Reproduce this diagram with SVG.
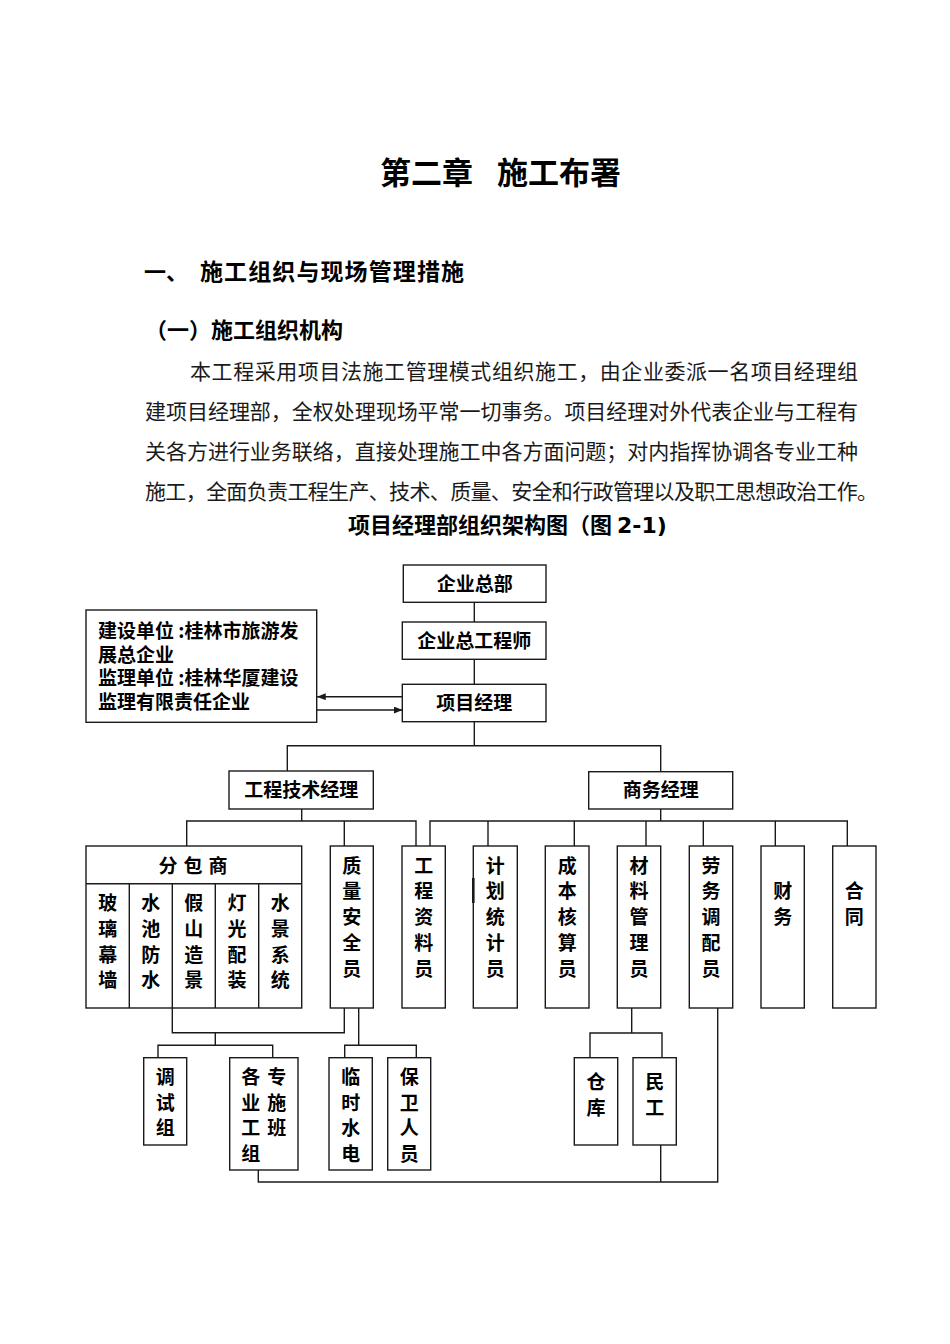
<svg xmlns="http://www.w3.org/2000/svg" width="950" height="1344" viewBox="0 0 950 1344">
<style>
.box{fill:#fff;stroke:#1a1a1a;stroke-width:1.4}
.ln{fill:none;stroke:#1a1a1a;stroke-width:1.4}
.t{font-family:"Noto Sans CJK SC","Noto Sans CJK JP",sans-serif;font-weight:bold;font-size:19px;fill:#000}
.c{text-anchor:middle}
.body{font-family:"Noto Sans CJK SC","Noto Sans CJK JP",sans-serif;font-size:21px;fill:#1a1a1a}
.h{font-family:"Noto Sans CJK SC","Noto Sans CJK JP",sans-serif;font-weight:bold;fill:#000}
</style>
<defs>
<marker id="ah" viewBox="0 0 10 8" refX="10" refY="4" markerWidth="9" markerHeight="7" orient="auto" markerUnits="userSpaceOnUse"><path d="M0,0 L10,4 L0,8 z" fill="#1a1a1a"/></marker>
</defs>
<rect width="950" height="1344" fill="#fff"/>

<g id="page-text">
<text class="h" x="380" y="183.5" font-size="31">第二章</text>
<text class="h" x="497" y="183.5" font-size="31">施工布署</text>
<text class="h" x="144" y="280" font-size="22">一、</text>
<text class="h" x="200" y="280" font-size="23" textLength="264" lengthAdjust="spacing">施工组织与现场管理措施</text>
<text class="h" x="145" y="338" font-size="22" textLength="198" lengthAdjust="spacing">（一）施工组织机构</text>
<text class="body" x="190" y="379" textLength="668" lengthAdjust="spacing">本工程采用项目法施工管理模式组织施工，由企业委派一名项目经理组</text>
<text class="body" x="145" y="419" textLength="713" lengthAdjust="spacing">建项目经理部，全权处理现场平常一切事务。项目经理对外代表企业与工程有</text>
<text class="body" x="145" y="459" textLength="713" lengthAdjust="spacing">关各方进行业务联络，直接处理施工中各方面问题；对内指挥协调各专业工种</text>
<text class="body" x="145" y="499" textLength="733" lengthAdjust="spacing">施工，全面负责工程生产、技术、质量、安全和行政管理以及职工思想政治工作。</text>
<text class="h" x="348" y="533.4" font-size="22">项目经理部组织架构图（图<tspan font-family="DejaVu Sans" x="617">2-1)</tspan></text>
</g>

<g id="connectors">
<path class="ln" d="M474.3 602 V622"/>
<path class="ln" d="M474.3 659.5 V684.5"/>
<path class="ln" d="M402.5 696.7 H317" marker-end="url(#ah)"/>
<path class="ln" d="M316.7 710 H402.5" marker-end="url(#ah)"/>
<path class="ln" d="M474.3 721.5 V745.7"/>
<path class="ln" d="M287.3 771 V745.7 H660.7 V772"/>
<path class="ln" d="M301.7 809 V821"/>
<path class="ln" d="M186.7 846 V821 H416 V846"/>
<path class="ln" d="M344.3 821 V846"/>
<path class="ln" d="M660.7 809 V821"/>
<path class="ln" d="M430 846 V821 H847.3 V846"/>
<path class="ln" d="M488 821 V846 M574.3 821 V846 M646 821 V846 M703.3 821 V846 M775.3 821 V846"/>
<path class="ln" d="M172.3 1008 V1032.7 H344.3 V1008"/>
<path class="ln" d="M215.3 1032.7 V1045.3"/>
<path class="ln" d="M158 1057.7 V1045.3 H272.7 V1057.7"/>
<path class="ln" d="M358.7 1008 V1045.3"/>
<path class="ln" d="M344.7 1057.7 V1045.3 H416.3 V1057.7"/>
<path class="ln" d="M631.7 1008 V1033"/>
<path class="ln" d="M590 1057.7 V1033 H662 V1057.7"/>
<path class="ln" d="M258.3 1170 V1182 H717.7 V1008"/>
<path class="ln" d="M660.7 1145 V1182"/>
</g>

<g id="n-hq"><rect class="box" x="403.3" y="565" width="142.7" height="37.3"/><text class="t c" x="474.7" y="590.5">企业总部</text></g>
<g id="n-chief"><rect class="box" x="402.3" y="622" width="143.7" height="37.3"/><text class="t c" x="474.3" y="647.5">企业总工程师</text></g>
<g id="n-pm"><rect class="box" x="402.3" y="684.3" width="143.7" height="37.4"/><text class="t c" x="474.3" y="710">项目经理</text></g>
<g id="n-info"><rect class="box" x="86" y="610" width="230.7" height="112.3"/>
<text class="t"><tspan x="98" y="638">建设单位 :桂林市旅游发</tspan><tspan x="98" y="661.6">展总企业</tspan><tspan x="98" y="685.2">监理单位 :桂林华厦建设</tspan><tspan x="98" y="709">监理有限责任企业</tspan></text>
</g>
<g id="n-tech"><rect class="box" x="229" y="771" width="144.3" height="38"/><text class="t c" x="301.2" y="797">工程技术经理</text></g>
<g id="n-biz"><rect class="box" x="588.7" y="771.7" width="144" height="37.3"/><text class="t c" x="660.7" y="797">商务经理</text></g>

<g id="n-sub"><rect class="box" x="86" y="846" width="215.7" height="162"/>
<path class="ln" d="M86 883.7 H301.7 M129.3 883.7 V1008 M172.3 883.7 V1008 M215.3 883.7 V1008 M258.7 883.7 V1008"/>
<text class="t c" y="872.5"><tspan x="168">分</tspan><tspan x="193">包</tspan><tspan x="218">商</tspan></text>
<text class="t c"><tspan x="107.7" y="910.2">玻</tspan><tspan x="107.7" y="935.9">璃</tspan><tspan x="107.7" y="961.6">幕</tspan><tspan x="107.7" y="987.3">墙</tspan></text>
<text class="t c"><tspan x="150.8" y="910.2">水</tspan><tspan x="150.8" y="935.9">池</tspan><tspan x="150.8" y="961.6">防</tspan><tspan x="150.8" y="987.3">水</tspan></text>
<text class="t c"><tspan x="193.8" y="910.2">假</tspan><tspan x="193.8" y="935.9">山</tspan><tspan x="193.8" y="961.6">造</tspan><tspan x="193.8" y="987.3">景</tspan></text>
<text class="t c"><tspan x="237" y="910.2">灯</tspan><tspan x="237" y="935.9">光</tspan><tspan x="237" y="961.6">配</tspan><tspan x="237" y="987.3">装</tspan></text>
<text class="t c"><tspan x="280.2" y="910.2">水</tspan><tspan x="280.2" y="935.9">景</tspan><tspan x="280.2" y="961.6">系</tspan><tspan x="280.2" y="987.3">统</tspan></text>
</g>

<g id="n-qa"><rect class="box" x="330.3" y="846" width="43" height="162"/>
<text class="t c"><tspan x="351.8" y="872.5">质</tspan><tspan x="351.8" y="898.4">量</tspan><tspan x="351.8" y="924.3">安</tspan><tspan x="351.8" y="950.2">全</tspan><tspan x="351.8" y="976.1">员</tspan></text></g>
<g id="n-doc"><rect class="box" x="402" y="846" width="43.3" height="162"/>
<text class="t c"><tspan x="423.7" y="872.5">工</tspan><tspan x="423.7" y="898.4">程</tspan><tspan x="423.7" y="924.3">资</tspan><tspan x="423.7" y="950.2">料</tspan><tspan x="423.7" y="976.1">员</tspan></text></g>
<g id="n-plan"><rect class="box" x="473.3" y="846" width="44" height="162"/>
<path d="M473.3 878 V903" stroke="#1a1a1a" stroke-width="2.6"/>
<text class="t c"><tspan x="495.3" y="872.5">计</tspan><tspan x="495.3" y="898.4">划</tspan><tspan x="495.3" y="924.3">统</tspan><tspan x="495.3" y="950.2">计</tspan><tspan x="495.3" y="976.1">员</tspan></text></g>
<g id="n-cost"><rect class="box" x="545.3" y="846" width="43.7" height="162"/>
<text class="t c"><tspan x="567.2" y="872.5">成</tspan><tspan x="567.2" y="898.4">本</tspan><tspan x="567.2" y="924.3">核</tspan><tspan x="567.2" y="950.2">算</tspan><tspan x="567.2" y="976.1">员</tspan></text></g>
<g id="n-mat"><rect class="box" x="617.3" y="846" width="43.4" height="162"/>
<text class="t c"><tspan x="639" y="872.5">材</tspan><tspan x="639" y="898.4">料</tspan><tspan x="639" y="924.3">管</tspan><tspan x="639" y="950.2">理</tspan><tspan x="639" y="976.1">员</tspan></text></g>
<g id="n-labor"><rect class="box" x="689.3" y="846" width="43.4" height="162"/>
<text class="t c"><tspan x="711" y="872.5">劳</tspan><tspan x="711" y="898.4">务</tspan><tspan x="711" y="924.3">调</tspan><tspan x="711" y="950.2">配</tspan><tspan x="711" y="976.1">员</tspan></text></g>
<g id="n-fin"><rect class="box" x="761" y="846" width="43.3" height="162"/>
<text class="t c"><tspan x="782.7" y="898.4">财</tspan><tspan x="782.7" y="924.3">务</tspan></text></g>
<g id="n-contract"><rect class="box" x="832.7" y="846" width="43.3" height="162"/>
<text class="t c"><tspan x="854.3" y="898.4">合</tspan><tspan x="854.3" y="924.3">同</tspan></text></g>

<g id="n-debug"><rect class="box" x="143.7" y="1057.7" width="43" height="87.3"/>
<text class="t c"><tspan x="165.2" y="1084">调</tspan><tspan x="165.2" y="1109.7">试</tspan><tspan x="165.2" y="1135.4">组</tspan></text></g>
<g id="n-teams"><rect class="box" x="229.7" y="1057.7" width="68.3" height="112.3"/>
<text class="t c"><tspan x="250.7" y="1084">各</tspan><tspan x="276.7" y="1084">专</tspan><tspan x="250.7" y="1109.7">业</tspan><tspan x="276.7" y="1109.7">施</tspan><tspan x="250.7" y="1135.4">工</tspan><tspan x="276.7" y="1135.4">班</tspan><tspan x="250.7" y="1161.1">组</tspan></text></g>
<g id="n-util"><rect class="box" x="329" y="1057.7" width="43.3" height="112.3"/>
<text class="t c"><tspan x="350.7" y="1084">临</tspan><tspan x="350.7" y="1109.7">时</tspan><tspan x="350.7" y="1135.4">水</tspan><tspan x="350.7" y="1161.1">电</tspan></text></g>
<g id="n-guard"><rect class="box" x="387.7" y="1057.7" width="43" height="112.3"/>
<text class="t c"><tspan x="409.2" y="1084">保</tspan><tspan x="409.2" y="1109.7">卫</tspan><tspan x="409.2" y="1135.4">人</tspan><tspan x="409.2" y="1161.1">员</tspan></text></g>
<g id="n-store"><rect class="box" x="574.3" y="1057.7" width="43.4" height="87.3"/>
<text class="t c"><tspan x="596" y="1089">仓</tspan><tspan x="596" y="1115">库</tspan></text></g>
<g id="n-worker"><rect class="box" x="633" y="1057.7" width="43.3" height="87.3"/>
<text class="t c"><tspan x="654.7" y="1089">民</tspan><tspan x="654.7" y="1115">工</tspan></text></g>
</svg>
